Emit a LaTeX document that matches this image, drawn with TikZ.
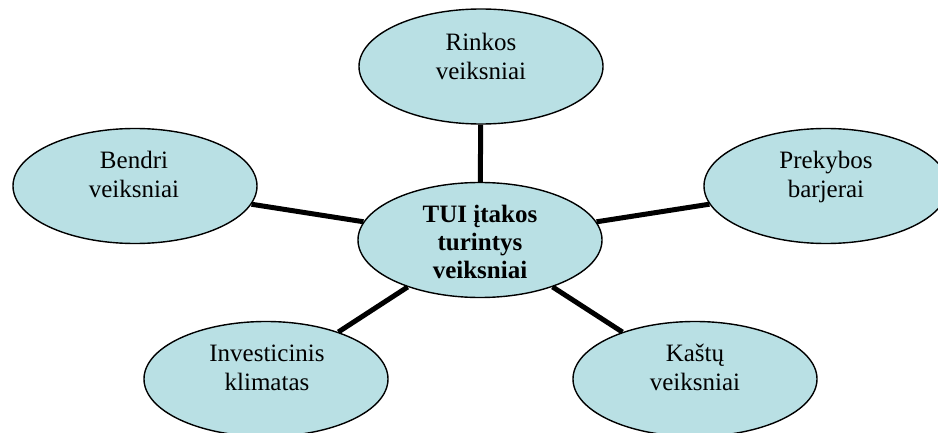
\documentclass[tikz,border=0pt]{standalone}
\usepackage{fontspec}
\setmainfont{Liberation Serif}
\usetikzlibrary{shapes.geometric}
\definecolor{bubble}{RGB}{185,224,228}
\tikzset{
  bubble/.style={ellipse, draw=black, line width=1.4pt, fill=bubble, inner sep=0pt,
    minimum width=244pt, minimum height=115pt},
  label/.style={anchor=base, align=center, inner sep=0pt,
    font=\fontsize{25pt}{29pt}\selectfont},
  link/.style={line width=5pt, black}
}
\begin{document}
\begin{tikzpicture}[x=1pt,y=-1pt]
\useasboundingbox (0,0) rectangle (938,433);
\clip (0,0) rectangle (938,433);
\node[bubble] (c) at (480,240) {};
\node[bubble] (r) at (481,66.5) {};
\node[bubble] (b) at (135,186) {};
\node[bubble] (p) at (826,186) {};
\node[bubble] (i) at (266,379) {};
\node[bubble] (k) at (695,379) {};
\draw[link] (c) -- (r);
\draw[link] (c) -- (b);
\draw[link] (c) -- (p);
\draw[link] (c) -- (i);
\draw[link] (c) -- (k);
\node[label, font=\fontsize{25pt}{28pt}\selectfont\bfseries] (ct) at (480,278) {TUI įtakos\\turintys\\veiksniai};
\node[label] (rt) at (481,80) {Rinkos\\veiksniai};
\node[label] (bt) at (134,198) {Bendri\\veiksniai};
\node[label] (pt) at (826,198) {Prekybos\\barjerai};
\node[label] (it) at (267,390) {Investicinis\\klimatas};
\node[label] (kt) at (695,390) {Kaštų\\veiksniai};
\end{tikzpicture}
\end{document}
